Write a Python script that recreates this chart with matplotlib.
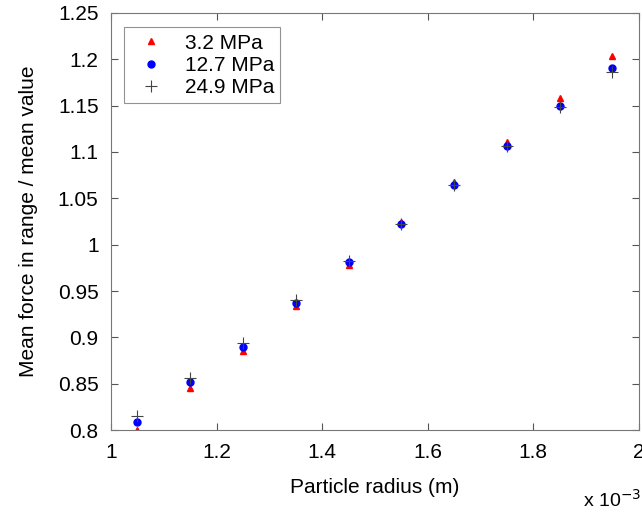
import matplotlib.pyplot as plt
import numpy as np

plt.rcParams['font.family'] = ['Liberation Sans', 'DejaVu Sans']

# particle radius (x 1e-3 m)
radius = [1.05, 1.15, 1.25, 1.35, 1.45, 1.55, 1.65, 1.75, 1.85, 1.95]

# mean force in range / mean value
p_3_2 = [0.800, 0.846, 0.885, 0.934, 0.978, 1.025, 1.068, 1.111, 1.158, 1.203]
p_12_7 = [0.809, 0.852, 0.890, 0.937, 0.981, 1.022, 1.064, 1.106, 1.150, 1.190]
p_24_9 = [0.815, 0.856, 0.894, 0.940, 0.982, 1.022, 1.064, 1.106, 1.148, 1.186]

fig = plt.figure(figsize=(6.42, 5.14), dpi=100)
ax = fig.add_axes([0.173, 0.163, 0.822, 0.812])

ax.plot(radius, p_3_2, '^', color='red', markersize=5, linestyle='none', label='3.2 MPa')
ax.plot(radius, p_12_7, 'o', color='blue', markersize=5, linestyle='none', label='12.7 MPa')
ax.plot(radius, p_24_9, '+', color='#444444', markersize=9, markeredgewidth=0.8,
        linestyle='none', label='24.9 MPa')

ax.set_xlim(1, 2)
ax.set_ylim(0.8, 1.25)
ax.set_xticks([1, 1.2, 1.4, 1.6, 1.8, 2])
ax.set_xticklabels(['1', '1.2', '1.4', '1.6', '1.8', '2'])
ax.set_yticks(np.arange(0.8, 1.2501, 0.05))
ax.set_yticklabels(['0.8', '0.85', '0.9', '0.95', '1', '1.05', '1.1', '1.15', '1.2', '1.25'])
ax.tick_params(direction='in', top=True, right=True, labelsize=15, length=5,
               color='#555555', pad=9)
for s in ax.spines.values():
    s.set_color('#777777')

ax.set_xlabel('Particle radius (m)', fontsize=15, labelpad=12)
ax.set_ylabel('Mean force in range / mean value', fontsize=15, labelpad=14)
ax.text(1.005, -0.14, r'x 10$^{-3}$', transform=ax.transAxes, fontsize=14,
        ha='right', va='top')

leg = ax.legend(loc='upper left', fontsize=15, frameon=True, fancybox=False,
                handletextpad=0.6, borderpad=0.3, labelspacing=0.15,
                bbox_to_anchor=(0.005, 0.99), markerscale=1)
leg.get_frame().set_edgecolor('#777777')
leg.get_frame().set_linewidth(0.8)

fig.savefig('out.png', dpi=100)
